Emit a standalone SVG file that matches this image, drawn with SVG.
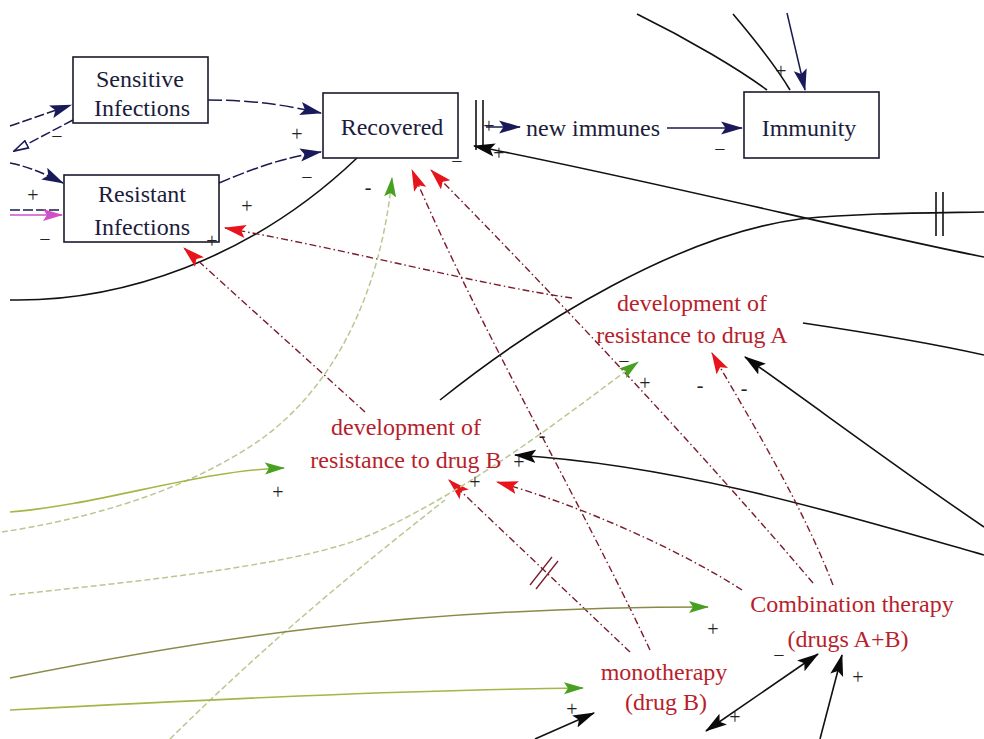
<svg xmlns="http://www.w3.org/2000/svg" width="984" height="739" viewBox="0 0 984 739">
  <style>
    .box { fill: #ffffff; stroke: #1a1a2e; stroke-width: 1.6; }
    .stock { font-family: "Liberation Serif", "Times New Roman", serif; font-size: 24px; fill: #1c1c3c; text-anchor: middle; }
    .aux { font-family: "Liberation Serif", "Times New Roman", serif; font-size: 24px; fill: #b81e2c; text-anchor: middle; }
    .pol { font-family: "Liberation Serif", "Times New Roman", serif; font-size: 20px; fill: #222222; text-anchor: middle; }
    .navy { fill: none; stroke: #1a1a50; stroke-width: 1.5; }
    .blk { fill: none; stroke: #111111; stroke-width: 1.6; }
    .red { fill: none; stroke: #7a1c2c; stroke-width: 1.4; stroke-dasharray: 7 3 1.5 3; }
    .lg { fill: none; stroke: #b8c890; stroke-width: 1.5; stroke-dasharray: 6 3; }
    .yg { fill: none; stroke: #a8b448; stroke-width: 1.6; }
    .olv { fill: none; stroke: #8a8a48; stroke-width: 1.5; }
    .bar { stroke: #111111; stroke-width: 1.6; }
  </style>
  <defs>
    <marker id="hNavy" viewBox="0 0 20 12" refX="19" refY="6" markerWidth="22" markerHeight="14" markerUnits="userSpaceOnUse" orient="auto-start-reverse">
      <path d="M0,0 L20,6 L0,12 L4,6 Z" fill="#1a1a5a"/>
    </marker>
    <marker id="hBlk" viewBox="0 0 20 12" refX="19" refY="6" markerWidth="22" markerHeight="14" markerUnits="userSpaceOnUse" orient="auto-start-reverse">
      <path d="M0,0 L20,6 L0,12 L4,6 Z" fill="#0a0a0a"/>
    </marker>
    <marker id="hRed" viewBox="0 0 20 12" refX="19" refY="6" markerWidth="22" markerHeight="15" markerUnits="userSpaceOnUse" orient="auto">
      <path d="M0,0 L20,6 L0,12 L4,6 Z" fill="#e8141c"/>
    </marker>
    <marker id="hGreen" viewBox="0 0 20 12" refX="19" refY="6" markerWidth="20" markerHeight="13" markerUnits="userSpaceOnUse" orient="auto">
      <path d="M0,0 L20,6 L0,12 L4,6 Z" fill="#48a020"/>
    </marker>
    <marker id="hPink" viewBox="0 0 20 12" refX="19" refY="6" markerWidth="20" markerHeight="12" markerUnits="userSpaceOnUse" orient="auto">
      <path d="M0,0 L20,6 L0,12 L4,6 Z" fill="#d050c8"/>
    </marker>
    <marker id="hOpen" viewBox="0 0 20 12" refX="19" refY="6" markerWidth="16" markerHeight="12" markerUnits="userSpaceOnUse" orient="auto">
      <path d="M1,1 L19,6 L1,11 Z" fill="#ffffff" stroke="#1a1a5a" stroke-width="2"/>
    </marker>
  </defs>

  <rect width="984" height="739" fill="#ffffff"/>

  <g id="connectors">
    <!-- stock-and-flow links (navy) -->
    <path class="navy" d="M208,100 C 250,100 280,104 321,113" stroke-dasharray="14 4" marker-end="url(#hNavy)"/>
    <path class="navy" d="M219,183 C 250,170 280,158 321,152" stroke-dasharray="12 3" marker-end="url(#hNavy)"/>
    <path class="navy" d="M10,126 L 71,105" stroke-dasharray="10 3" marker-end="url(#hNavy)"/>
    <path class="navy" d="M73,120 L 14,151" stroke-dasharray="10 3" marker-end="url(#hOpen)"/>
    <path class="navy" d="M10,163 C 30,167 45,174 63,183" stroke-dasharray="10 3" marker-end="url(#hNavy)"/>
    <path class="navy" d="M10,210 L 62,210" stroke-dasharray="10 3"/>
    <path d="M10,215 L 62,215" fill="none" stroke="#d050c8" stroke-width="1.4" marker-end="url(#hPink)"/>
    <path class="navy" d="M787,13 L 805,90" marker-end="url(#hNavy)"/>
    <path class="navy" d="M486,127 L 520,127" marker-end="url(#hNavy)"/>
    <path class="navy" d="M667,128 L 742,128" marker-end="url(#hNavy)"/>

    <!-- flow valve -->
    <line class="bar" x1="476" y1="100" x2="476" y2="150"/>
    <line class="bar" x1="483" y1="100" x2="483" y2="150"/>

    <!-- black links -->
    <path class="blk" d="M637,14 C 690,40 740,70 767,90"/>
    <path class="blk" d="M733,14 C 755,40 775,65 790,90"/>
    <path class="blk" d="M984,257 C 880,237 640,178 474,146" marker-end="url(#hBlk)"/>
    <path class="blk" d="M10,300 C 120,302 250,260 357,158"/>
    <path class="blk" d="M440,400 C 540,320 680,235 800,219 C 860,213 920,213 984,212"/>
    <line class="bar" x1="936" y1="192" x2="936" y2="236"/>
    <line class="bar" x1="943" y1="192" x2="943" y2="236"/>
    <path class="blk" d="M803,323 C 870,333 930,343 984,355"/>
    <path class="blk" d="M984,527 C 900,470 820,410 745,357" marker-end="url(#hBlk)"/>
    <path class="blk" d="M984,555 C 860,520 690,466 515,455" marker-end="url(#hBlk)"/>
    <path class="blk" d="M535,739 L 594,713" marker-end="url(#hBlk)"/>
    <path class="blk" d="M820,739 L 842,655" marker-end="url(#hBlk)"/>
    <path class="blk" d="M706,731 L 818,654" marker-start="url(#hBlk)" marker-end="url(#hBlk)"/>

    <!-- red links -->
    <path class="red" d="M572,298 C 480,285 350,250 225,228" marker-end="url(#hRed)"/>
    <path class="red" d="M650,650 C 580,500 480,330 412,170" marker-end="url(#hRed)"/>
    <path class="red" d="M813,583 C 700,450 540,280 431,170" marker-end="url(#hRed)"/>
    <path class="red" d="M365,412 L 184,248" marker-end="url(#hRed)"/>
    <path class="red" d="M630,652 L 449,480" marker-end="url(#hRed)"/>
    <line x1="530" y1="585" x2="552" y2="557" stroke="#7a1c2c" stroke-width="1.3"/>
    <line x1="536" y1="589" x2="558" y2="561" stroke="#7a1c2c" stroke-width="1.3"/>
    <path class="red" d="M742,590 C 680,550 580,505 497,482" marker-end="url(#hRed)"/>
    <path class="red" d="M833,585 C 800,500 750,420 712,353" marker-end="url(#hRed)"/>

    <!-- green links -->
    <path class="lg" d="M2,532 C 80,520 180,495 260,440 C 330,390 380,300 392,178" marker-end="url(#hGreen)"/>
    <path class="yg" d="M10,512 C 100,505 200,470 284,468" marker-end="url(#hGreen)"/>
    <path class="lg" d="M10,595 C 150,580 300,565 370,535 C 470,490 560,420 638,362" marker-end="url(#hGreen)"/>
    <path class="lg" d="M170,739 C 250,660 330,590 445,500"/>
    <path class="olv" d="M10,678 C 200,640 400,607 708,607" marker-end="url(#hGreen)"/>
    <path class="yg" d="M10,710 C 200,700 400,690 583,688" marker-end="url(#hGreen)"/>
  </g>

  <g id="sensitive-infections">
    <rect class="box" x="73" y="57" width="135" height="66"/>
    <text class="stock" x="140" y="87">Sensitive</text>
    <text class="stock" x="142" y="116">Infections</text>
  </g>
  <g id="resistant-infections">
    <rect class="box" x="64" y="175" width="155" height="67"/>
    <text class="stock" x="142" y="202">Resistant</text>
    <text class="stock" x="142" y="235">Infections</text>
  </g>
  <g id="recovered">
    <rect class="box" x="323" y="93" width="135" height="65"/>
    <text class="stock" x="392" y="135">Recovered</text>
  </g>
  <g id="immunity">
    <rect class="box" x="744" y="92" width="135" height="66"/>
    <text class="stock" x="809" y="136">Immunity</text>
  </g>
  <g id="new-immunes">
    <text class="stock" x="593" y="136">new immunes</text>
  </g>
  <g id="resistance-drug-a">
    <text class="aux" x="692" y="311">development of</text>
    <text class="aux" x="692" y="343">resistance to drug A</text>
  </g>
  <g id="resistance-drug-b">
    <text class="aux" x="406" y="435">development of</text>
    <text class="aux" x="406" y="468">resistance to drug B</text>
  </g>
  <g id="combination-therapy">
    <text class="aux" x="852" y="612">Combination therapy</text>
    <text class="aux" x="848" y="647">(drugs A+B)</text>
  </g>
  <g id="monotherapy">
    <text class="aux" x="664" y="680">monotherapy</text>
    <text class="aux" x="666" y="710">(drug B)</text>
  </g>

  <g id="polarities">
    <text class="pol" x="57" y="143">−</text>
    <text class="pol" x="33" y="202">+</text>
    <text class="pol" x="45" y="246">−</text>
    <text class="pol" x="297" y="141">+</text>
    <text class="pol" x="307" y="184">−</text>
    <text class="pol" x="247" y="213">+</text>
    <text class="pol" x="212" y="248">+</text>
    <text class="pol" x="368" y="194">-</text>
    <text class="pol" x="457" y="168">−</text>
    <text class="pol" x="489" y="133">+</text>
    <text class="pol" x="499" y="160">+</text>
    <text class="pol" x="720" y="156">−</text>
    <text class="pol" x="781" y="78">+</text>
    <text class="pol" x="624" y="368" font-size="16" fill="#48a020">−</text>
    <text class="pol" x="645" y="390">+</text>
    <text class="pol" x="700" y="392">-</text>
    <text class="pol" x="744" y="395">-</text>
    <text class="pol" x="278" y="499">+</text>
    <text class="pol" x="475" y="489">+</text>
    <text class="pol" x="519" y="469" fill="#2a6a20">+</text>
    <text class="pol" x="542" y="442">-</text>
    <text class="pol" x="713" y="636">+</text>
    <text class="pol" x="572" y="716">+</text>
    <text class="pol" x="735" y="724">+</text>
    <text class="pol" x="858" y="684">+</text>
    <text class="pol" x="779" y="662">−</text>
  </g>
</svg>
